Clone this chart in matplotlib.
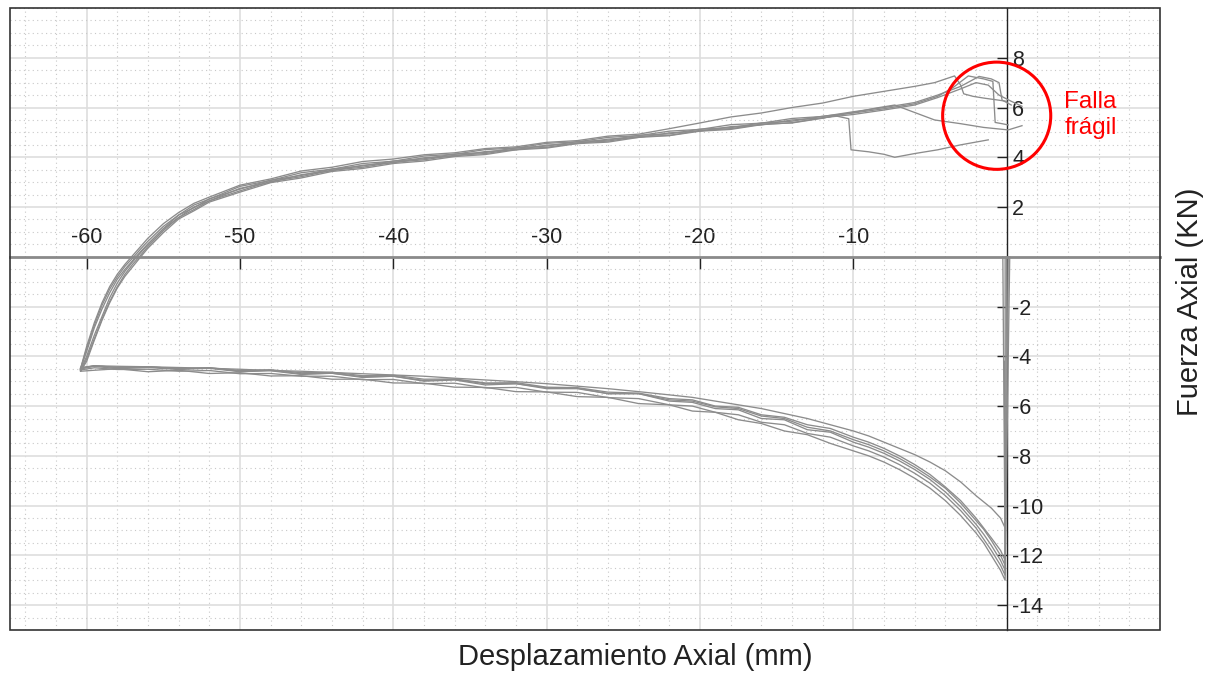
import matplotlib
matplotlib.use("Agg")
import matplotlib.pyplot as plt
from matplotlib.ticker import MultipleLocator
from matplotlib.patches import Rectangle, Ellipse

plt.rcParams['font.family'] = ['Liberation Sans', 'DejaVu Sans']
plt.rcParams['axes.unicode_minus'] = False

# ---- data (displacement mm, force kN) ----
# lower branch (force negative), x shared by every cycle
low_x = [-0.1, -0.4, -1.0, -1.5, -2.0, -3.0, -4.0, -5.0, -6.0, -7.0, -8.0, -9.0, -10.0,
         -11.5, -13.0, -14.5, -16.0, -17.5, -19.0, -20.5, -22.0, -24.0, -26.0, -28.0,
         -30.0, -32.0, -34.0, -36.0, -38.0, -40.0, -42.0, -44.0, -46.0, -48.0, -50.0,
         -52.0, -54.0, -56.0, -58.0, -59.5, -60.4]
low_1 = [-10.9, -10.5, -10.1, -9.85, -9.6, -9.05, -8.6, -8.25, -7.95, -7.7, -7.45, -7.2, -7.0,
         -6.75, -6.5, -6.3, -6.1, -5.95, -5.8, -5.65, -5.55, -5.42, -5.3, -5.2, -5.1, -5.02,
         -4.95, -4.88, -4.8, -4.75, -4.7, -4.65, -4.6, -4.57, -4.52, -4.48, -4.45, -4.42,
         -4.4, -4.38, -4.45]
low_2 = [-12.6, -12.2, -11.6, -11.15, -10.75, -10.05, -9.45, -8.95, -8.55, -8.2, -7.9, -7.65,
         -7.45, -7.05, -6.95, -6.55, -6.5, -6.15, -6.1, -5.85, -5.8, -5.5, -5.5, -5.3, -5.3,
         -5.1, -5.15, -4.95, -5.0, -4.8, -4.85, -4.68, -4.73, -4.58, -4.62, -4.48, -4.53,
         -4.45, -4.5, -4.4, -4.5]
low_3 = [-13.0, -12.6, -12.0, -11.5, -11.1, -10.4, -9.8, -9.3, -8.9, -8.55, -8.25, -8.0, -7.8,
         -7.5, -7.15, -7.0, -6.7, -6.55, -6.25, -6.2, -5.95, -5.9, -5.65, -5.62, -5.43, -5.42,
         -5.25, -5.24, -5.08, -5.07, -4.92, -4.92, -4.78, -4.79, -4.66, -4.69, -4.56, -4.62,
         -4.5, -4.56, -4.6]
low_4 = [-12.4, -12.0, -11.4, -10.95, -10.6, -9.9, -9.3, -8.85, -8.45, -8.1, -7.8, -7.55,
         -7.35, -7.0, -6.85, -6.5, -6.4, -6.1, -6.03, -5.8, -5.75, -5.5, -5.5, -5.28, -5.26,
         -5.1, -5.1, -4.93, -4.97, -4.8, -4.82, -4.68, -4.7, -4.56, -4.6, -4.46, -4.5, -4.42,
         -4.45, -4.38, -4.5]
low_5 = [-12.8, -12.4, -11.8, -11.35, -10.9, -10.2, -9.6, -9.1, -8.7, -8.35, -8.05, -7.8, -7.6,
         -7.25, -7.1, -6.75, -6.65, -6.35, -6.25, -6.0, -5.95, -5.7, -5.66, -5.45, -5.44,
         -5.25, -5.27, -5.08, -5.1, -4.93, -4.94, -4.8, -4.8, -4.69, -4.7, -4.57, -4.6, -4.52,
         -4.53, -4.46, -4.55]
low_6 = [-12.2, -11.8, -11.3, -10.9, -10.5, -9.8, -9.25, -8.75, -8.35, -8.0, -7.7, -7.45,
         -7.25, -6.9, -6.75, -6.45, -6.35, -6.05, -6.0, -5.75, -5.7, -5.48, -5.44, -5.26,
         -5.24, -5.06, -5.07, -4.91, -4.92, -4.76, -4.78, -4.64, -4.66, -4.54, -4.57, -4.46,
         -4.5, -4.42, -4.45, -4.38, -4.48]

# upper branch (force positive), shared x up to -12 mm
up_x = [-60.4, -60.0, -59.5, -59.0, -58.5, -58.0, -57.5, -57.0, -56.5, -56.0, -55.0, -54.0,
        -53.0, -52.0, -50.0, -48.0, -46.0, -44.0, -42.0, -40.0, -38.0, -36.0, -34.0, -32.0,
        -30.0, -28.0, -26.0, -24.0, -22.0, -20.0, -18.0, -16.0, -14.0, -12.0]
up_1 = [-4.5, -3.6, -2.65, -1.85, -1.2, -0.7, -0.3, 0.05, 0.4, 0.75, 1.33, 1.78, 2.15, 2.4,
        2.88, 3.13, 3.45, 3.6, 3.83, 3.93, 4.1, 4.18, 4.35, 4.42, 4.6, 4.67, 4.85, 4.93, 5.15,
        5.38, 5.62, 5.78, 6.0, 6.18]
up_2 = [-4.6, -4.1, -3.3, -2.5, -1.8, -1.2, -0.7, -0.3, 0.05, 0.42, 1.05, 1.58, 1.9, 2.25,
        2.65, 3.03, 3.22, 3.48, 3.6, 3.8, 3.9, 4.08, 4.15, 4.33, 4.4, 4.58, 4.65, 4.83, 4.88,
        5.08, 5.15, 5.33, 5.38, 5.57]
up_3 = [-4.5, -3.8, -2.85, -2.1, -1.45, -0.9, -0.5, -0.15, 0.2, 0.52, 1.12, 1.58, 2.0, 2.25,
        2.75, 3.0, 3.3, 3.46, 3.68, 3.78, 3.98, 4.05, 4.23, 4.3, 4.49, 4.55, 4.73, 4.8, 4.98,
        5.05, 5.23, 5.3, 5.5, 5.58]
up_4 = [-4.55, -4.0, -3.15, -2.4, -1.65, -1.05, -0.58, -0.2, 0.15, 0.5, 1.13, 1.68, 1.97, 2.33,
        2.72, 3.08, 3.27, 3.53, 3.65, 3.85, 3.94, 4.13, 4.19, 4.38, 4.45, 4.63, 4.69, 4.88,
        4.94, 5.13, 5.19, 5.38, 5.45, 5.65]
up_5 = [-4.5, -3.7, -2.75, -1.95, -1.3, -0.8, -0.38, -0.05, 0.3, 0.63, 1.22, 1.68, 2.08, 2.32,
        2.83, 3.07, 3.38, 3.52, 3.75, 3.84, 4.05, 4.12, 4.31, 4.37, 4.56, 4.62, 4.8, 4.87, 5.05,
        5.12, 5.31, 5.37, 5.56, 5.64]
up_6 = [-4.6, -4.2, -3.35, -2.55, -1.85, -1.25, -0.78, -0.4, -0.02, 0.35, 0.97, 1.52, 1.85,
        2.2, 2.6, 2.98, 3.17, 3.43, 3.55, 3.75, 3.85, 4.03, 4.11, 4.3, 4.37, 4.55, 4.61, 4.8,
        4.87, 5.05, 5.12, 5.31, 5.39, 5.59]

# end of each upper branch (brittle failure zone)
tail_x1 = [-10.0, -8.0, -6.0, -4.7, -3.4, -3.0, -2.8, -2.2, -1.5, -0.8, 0.0]
tail_y1 = [6.45, 6.65, 6.85, 7.0, 7.27, 6.9, 6.55, 6.45, 6.38, 6.32, 6.25]
tail_x2 = [-11.2, -10.3, -10.15, -9.0, -8.0, -7.3, -6.0, -4.5, -3.0, -1.2]
tail_y2 = [5.67, 5.55, 4.3, 4.22, 4.12, 4.0, 4.15, 4.3, 4.5, 4.7]
tail_x3 = [-10.0, -8.5, -7.3, -6.0, -4.7, -3.0, -1.5, 0.1, 1.0]
tail_y3 = [5.8, 5.98, 6.1, 5.8, 5.5, 5.35, 5.2, 5.1, 5.27]
tail_x4 = [-10.0, -8.0, -6.0, -4.5, -3.5, -2.5, -1.5, -0.9, -0.75, -0.3, 0.1]
tail_y4 = [5.78, 5.95, 6.15, 6.45, 6.8, 7.27, 7.15, 7.05, 5.4, 5.35, 5.3]
tail_x5 = [-10.0, -8.0, -6.0, -4.5, -3.0, -1.8, -1.0, -0.5, -0.3, 0.3]
tail_y5 = [5.83, 6.0, 6.2, 6.5, 6.85, 7.25, 7.15, 7.0, 6.3, 6.1]
tail_x6 = [-10.0, -8.0, -6.0, -4.5, -3.0, -2.0, -1.2, -0.5, 0.3, 1.0]
tail_y6 = [5.72, 5.9, 6.1, 6.4, 6.75, 7.0, 6.9, 6.5, 6.25, 6.05]

# start of each cycle (loading at x ~ 0)
start_x = [-0.15, 0.2, 0.1, 0.0, -0.1, -0.25]
start_y = [-4.2, 0.0, 0.0, 0.0, 0.0, 0.0]

lows = [low_1, low_2, low_3, low_4, low_5, low_6]
ups = [up_1, up_2, up_3, up_4, up_5, up_6]
tails_x = [tail_x1, tail_x2, tail_x3, tail_x4, tail_x5, tail_x6]
tails_y = [tail_y1, tail_y2, tail_y3, tail_y4, tail_y5, tail_y6]

# ---- figure ----
fig = plt.figure(figsize=(12.15, 6.73), dpi=100)
ax = fig.add_axes([10 / 1215, 43 / 673, 1150 / 1215, 622 / 673])

for i in range(6):
    xs = [start_x[i]] + low_x + up_x + tails_x[i]
    ys = [start_y[i]] + lows[i] + ups[i] + tails_y[i]
    ax.plot(xs, ys, color="#8c8c8c", lw=0.95, zorder=3)

ax.set_xlim(-65, 10)
ax.set_ylim(-15, 10)

# centred axes: top spine = x axis at y=0, right spine = y axis at x=0
for s in ["left", "bottom"]:
    ax.spines[s].set_visible(False)
ax.spines["top"].set_position(("data", 0))
ax.spines["top"].set_color("#8a8a8a")
ax.spines["top"].set_linewidth(2)
ax.spines["top"].set_zorder(2)
ax.spines["right"].set_position(("data", 0))
ax.spines["right"].set_color("#222222")
ax.spines["right"].set_linewidth(1)
ax.spines["right"].set_zorder(2)
ax.add_patch(Rectangle((0, 0), 1, 1, transform=ax.transAxes, fill=False,
                       ec="#333333", lw=1.2, clip_on=False, zorder=5))

ax.xaxis.set_ticks_position("top")
ax.yaxis.set_ticks_position("right")
ax.set_xticks([-60, -50, -40, -30, -20, -10])
ax.set_yticks([-14, -12, -10, -8, -6, -4, -2, 2, 4, 6, 8])
ax.xaxis.set_minor_locator(MultipleLocator(2))
ax.yaxis.set_minor_locator(MultipleLocator(0.5))
ax.tick_params(axis="x", which="major", direction="in", length=8.5, width=1,
               color="#222222", pad=6, labelsize=15.5, labelcolor="#222222")
ax.tick_params(axis="y", which="major", direction="in", length=7, width=1,
               color="#222222", pad=4, labelsize=15.5, labelcolor="#222222")
ax.tick_params(which="minor", length=0)

ax.grid(which="major", color="#dedede", lw=1.2, zorder=0)
ax.grid(which="minor", color="#c8c8c8", lw=0.8, ls=(0, (1, 3)), zorder=0)
ax.set_axisbelow(True)

# brittle failure marker
ax.add_patch(Ellipse((-0.65, 5.67), 7.05, 4.31, fill=False, ec="#ff0000", lw=2.2, zorder=6))
ax.text(3.75, 5.7, "Falla\nfrágil", color="#ff0000", fontsize=17.5, ha="left", va="center",
        linespacing=1.2)

fig.text(635 / 1215, 1 - 657 / 673, "Desplazamiento Axial (mm)", fontsize=21,
         ha="center", va="center", color="#222222")
fig.text(1190 / 1215, 1 - 302 / 673, "Fuerza Axial (KN)", fontsize=21, rotation=90,
         ha="center", va="center", color="#222222")

fig.savefig("out.png", dpi=100)
